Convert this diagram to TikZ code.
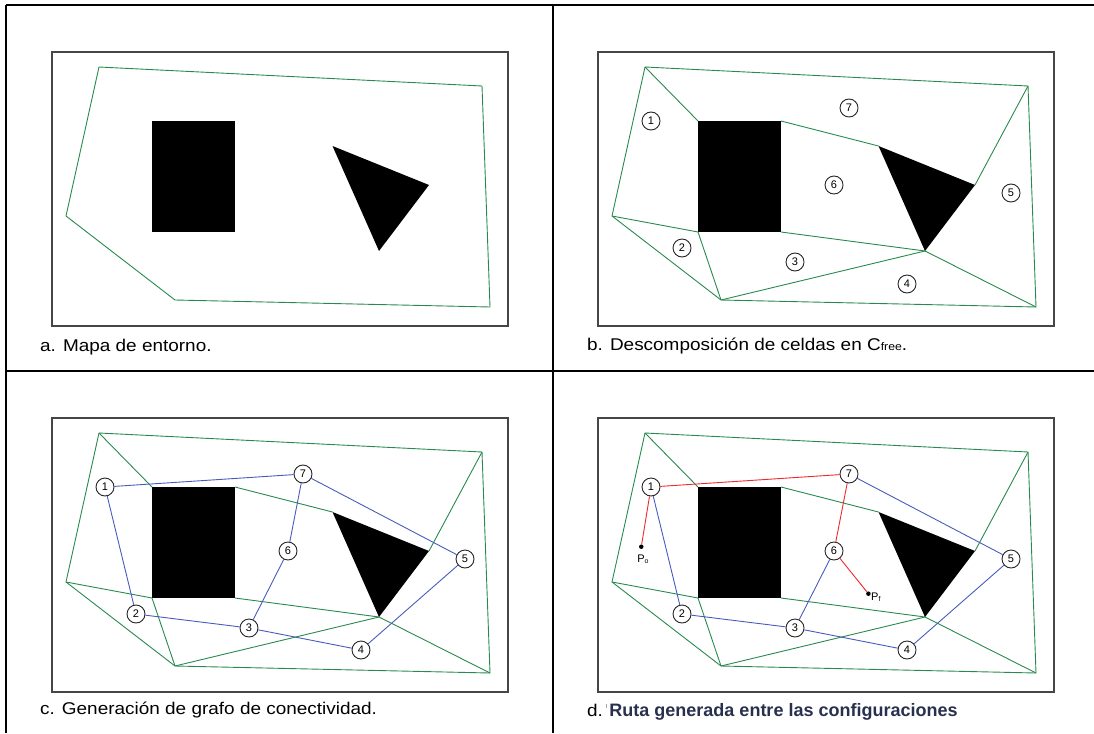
\documentclass[tikz,border=0pt]{standalone}
\usepackage{fontspec}
\usepackage{graphicx}
\setmainfont{Liberation Sans}
\definecolor{mapgreen}{RGB}{40,138,78}
\definecolor{edgeblue}{RGB}{72,92,190}
\definecolor{pathred}{RGB}{238,40,45}
\definecolor{boxgray}{RGB}{70,70,70}
\definecolor{capnavy}{RGB}{40,48,78}
\tikzset{
  frameline/.style={draw=black, line width=1.3pt},
  mapbox/.style={draw=boxgray, line width=1.3pt},
  wall/.style={draw=mapgreen, line width=0.9pt, line join=round},
  gedge/.style={draw=edgeblue, line width=0.9pt},
  redge/.style={draw=pathred, line width=0.9pt},
  cell/.style={circle, draw=black!85, line width=0.9pt, fill=white, minimum size=18pt, inner sep=0pt, font=\fontsize{11}{11}\selectfont},
  dotpt/.style={circle, fill=black, minimum size=4.5pt, inner sep=0pt},
  plabel/.style={inner sep=0pt, font=\fontsize{11}{11}\selectfont},
  caption/.style={anchor=west, inner sep=0pt, font=\fontsize{17}{20}\selectfont}
}
\newcommand\envmap[1]{%
  \draw[mapbox] (52,52) rectangle (508,326);
  \coordinate (#1P1) at (99,67);
  \coordinate (#1P2) at (482,86);
  \coordinate (#1P3) at (490,307);
  \coordinate (#1P4) at (175,300);
  \coordinate (#1P5) at (66,216);
  \coordinate (#1R1) at (152,121);
  \coordinate (#1R2) at (235,121);
  \coordinate (#1R3) at (235,232);
  \coordinate (#1R4) at (152,232);
  \coordinate (#1T1) at (332.5,146);
  \coordinate (#1T2) at (429,185);
  \coordinate (#1T3) at (379,251);
  \draw[wall] (#1P1) -- (#1P2) -- (#1P3) -- (#1P4) -- (#1P5) -- cycle;
}
\newcommand\obstacles[1]{%
  \fill[black] (#1R1) rectangle (#1R3);
  \fill[black] (#1T1) -- (#1T2) -- (#1T3) -- cycle;
}
\newcommand\cellsplit[1]{%
  \draw[wall] (#1P1) -- (#1R1);
  \draw[wall] (#1P5) -- (#1R4) -- (#1P4);
  \draw[wall] (#1R2) -- (#1T1);
  \draw[wall] (#1R3) -- (#1T3);
  \draw[wall] (#1P4) -- (#1T3) -- (#1P3);
  \draw[wall] (#1T2) -- (#1P2);
}
\newcommand\cellnodes[1]{%
  \node[cell] (#1n1) at (105,121) {1};
  \node[cell] (#1n2) at (136,248) {2};
  \node[cell] (#1n3) at (249,262) {3};
  \node[cell] (#1n4) at (361,284) {4};
  \node[cell] (#1n5) at (465,193) {5};
  \node[cell] (#1n6) at (288,185) {6};
  \node[cell] (#1n7) at (303,108) {7};
}
\begin{document}
\begin{tikzpicture}[x=1pt,y=-1pt]
\useasboundingbox (0,0) rectangle (1094,733);
% outer table lines
\coordinate (tl) at (6,5);
\coordinate (tr) at (1094,5);
\coordinate (ml) at (6,371);
\coordinate (mr) at (1094,371);
\coordinate (tm) at (553,5);
\coordinate (bm) at (553,733);
\coordinate (bl) at (6,733);
\draw[frameline] (tl) -- (tr);
\draw[frameline] (ml) -- (mr);
\draw[frameline] (tl) -- (bl);
\draw[frameline] (tm) -- (bm);

% ---------- panel a ----------
\begin{scope}
  \envmap{a}
  \obstacles{a}
  \node[caption] (capa) at (40,347) {\scalebox{1.115}[1]{a. Mapa de entorno.}};
\end{scope}

% ---------- panel b ----------
\begin{scope}[shift={(546,0)}]
  \envmap{b}
  \cellsplit{b}
  \obstacles{b}
  \cellnodes{b}
  \node[caption] (capb) at (41,346) {\scalebox{1.115}[1]{b. Descomposición de celdas en C{\fontsize{11}{11}\selectfont free}.}};
\end{scope}

% ---------- panel c ----------
\begin{scope}[shift={(0,366)}]
  \envmap{c}
  \cellsplit{c}
  \obstacles{c}
  \cellnodes{c}
  \draw[gedge] (cn1) -- (cn7);
  \draw[gedge] (cn1) -- (cn2);
  \draw[gedge] (cn7) -- (cn6);
  \draw[gedge] (cn7) -- (cn5);
  \draw[gedge] (cn6) -- (cn3);
  \draw[gedge] (cn2) -- (cn3);
  \draw[gedge] (cn3) -- (cn4);
  \draw[gedge] (cn4) -- (cn5);
  \node[caption] (capc) at (40,344) {\scalebox{1.115}[1]{c. Generación de grafo de conectividad.}};
\end{scope}

% ---------- panel d ----------
\begin{scope}[shift={(546,366)}]
  \envmap{d}
  \cellsplit{d}
  \obstacles{d}
  \cellnodes{d}
  \node[dotpt] (ps) at (95.3,180.7) {};
  \node[dotpt] (pf) at (322.4,227.7) {};
  \node[plabel] (pslab) at (97,193) {P\raisebox{-1.5pt}{\fontsize{7}{7}\selectfont o}};
  \node[plabel, anchor=west] (pflab) at (325,231) {P\raisebox{-1.5pt}{\fontsize{7}{7}\selectfont f}};
  \draw[gedge] (dn1) -- (dn2);
  \draw[gedge] (dn7) -- (dn5);
  \draw[gedge] (dn6) -- (dn3);
  \draw[gedge] (dn2) -- (dn3);
  \draw[gedge] (dn3) -- (dn4);
  \draw[gedge] (dn4) -- (dn5);
  \draw[redge] (dn1) -- (dn7);
  \draw[redge] (dn7) -- (dn6);
  \draw[redge] (dn1) -- (ps);
  \draw[redge] (dn6) -- (pf);
  \node[caption] (capd) at (41,346) {\scalebox{1.115}[1]{d.}\,\textcolor{black!35}{\rule[9pt]{0.8pt}{4pt}}\,{\fontsize{18}{20}\selectfont\bfseries\color{capnavy}Ruta generada entre las configuraciones}};
\end{scope}
\end{tikzpicture}
\end{document}
